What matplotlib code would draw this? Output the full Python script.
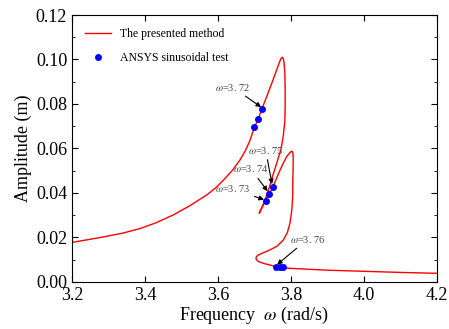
import matplotlib
matplotlib.use('Agg')
import matplotlib.pyplot as plt
from matplotlib.ticker import MultipleLocator, FormatStrFormatter

# frequency response curve (path order)
w_curve = [3.200, 3.250, 3.291, 3.340, 3.386, 3.430, 3.477, 3.520, 3.569, 3.595,
           3.615, 3.640, 3.660, 3.675, 3.688, 3.6995, 3.7105, 3.7197, 3.735, 3.750,
           3.760, 3.767, 3.772, 3.776, 3.779, 3.781, 3.783, 3.784, 3.784, 3.783,
           3.779, 3.773, 3.762, 3.750, 3.738, 3.725, 3.713,
           3.724, 3.731, 3.741, 3.750, 3.760, 3.770, 3.780, 3.788, 3.795, 3.800,
           3.803, 3.805, 3.806, 3.806, 3.805, 3.8045, 3.802, 3.797, 3.790, 3.779,
           3.762, 3.742, 3.722, 3.710, 3.705, 3.704, 3.708, 3.715, 3.724, 3.740,
           3.761, 3.780, 3.850, 3.900, 4.000, 4.100, 4.200]
a_curve = [0.0178, 0.0192, 0.0204, 0.0220, 0.0240, 0.0266, 0.0301, 0.0340, 0.0391, 0.0425,
           0.0458, 0.0503, 0.0548, 0.0590, 0.0638, 0.0695, 0.0733, 0.0776, 0.0840, 0.0905,
           0.0950, 0.0982, 0.1002, 0.1010, 0.1003, 0.0985, 0.0940, 0.0870, 0.0790, 0.0720,
           0.0660, 0.0600, 0.0540, 0.0478, 0.0412, 0.0352, 0.0309,
           0.0346, 0.0366, 0.0396, 0.0426, 0.0465, 0.0503, 0.0538, 0.0563, 0.0578, 0.0586,
           0.0588, 0.0580, 0.0560, 0.0533, 0.0460, 0.0383, 0.0320, 0.0264, 0.0222, 0.0189,
           0.0161, 0.0144, 0.0130, 0.0121, 0.0113, 0.0104, 0.0095, 0.0089, 0.0084, 0.0077,
           0.0069, 0.0063, 0.0057, 0.0053, 0.0048, 0.0043, 0.0039]

# ANSYS test points
w_test = [3.7197, 3.7105, 3.6995, 3.7500, 3.7406, 3.7307, 3.759, 3.770, 3.779]
a_test = [0.0776, 0.0733, 0.0695, 0.0426, 0.0396, 0.0366, 0.0067, 0.0067, 0.0067]

# annotations: label, arrow tip, text position
ann_labels = ['3. 72', '3. 75', '3. 74', '3. 73', '3. 76']
ann_xy = [(3.718, 0.0786), (3.748, 0.0440), (3.736, 0.0408), (3.726, 0.0370), (3.762, 0.0078)]
ann_text = [(3.592, 0.0876), (3.682, 0.0593), (3.641, 0.0508), (3.592, 0.0418), (3.797, 0.0193)]

plt.rcParams['font.family'] = 'Liberation Serif'
plt.rcParams['mathtext.fontset'] = 'stix'

fig = plt.figure(figsize=(4.49, 3.29), dpi=100)
ax = fig.add_axes([0.1604, 0.1429, 0.8129, 0.8115])

ax.plot(w_curve, a_curve, color='red', lw=1.0, label='The presented method')
ax.plot(w_test, a_test, 'o', color='blue', ms=4, label='ANSYS sinusoidal test')

for lab, xy, xt in zip(ann_labels, ann_xy, ann_text):
    ax.annotate(r'$\omega$=' + lab, xy=xy, xytext=xt, fontsize=7.5, color='#444444',
                ha='left', va='center',
                arrowprops=dict(arrowstyle='-|>', color='k', lw=0.8,
                                mutation_scale=7, shrinkA=1, shrinkB=0))

ax.set_xlim(3.2, 4.2)
ax.set_ylim(0, 0.12)
ax.xaxis.set_major_locator(MultipleLocator(0.2))
ax.yaxis.set_major_locator(MultipleLocator(0.02))
ax.yaxis.set_minor_locator(MultipleLocator(0.01))
ax.xaxis.set_major_formatter(FormatStrFormatter('%.1f'))
ax.yaxis.set_major_formatter(FormatStrFormatter('%.2f'))
ax.tick_params(which='both', direction='in', top=True, right=True, labelsize=13)
ax.tick_params(which='major', length=4)
ax.tick_params(which='minor', length=2.5)

ax.set_xlabel(r'Frequency  $\omega$ (rad/s)', fontsize=13, labelpad=1)
ax.set_ylabel('Amplitude (m)', fontsize=13, labelpad=3)
ax.legend(loc='upper left', frameon=False, fontsize=8.5, handlelength=2.2,
          labelspacing=1.0, borderaxespad=0.7)

plt.savefig('out.png', dpi=100)
